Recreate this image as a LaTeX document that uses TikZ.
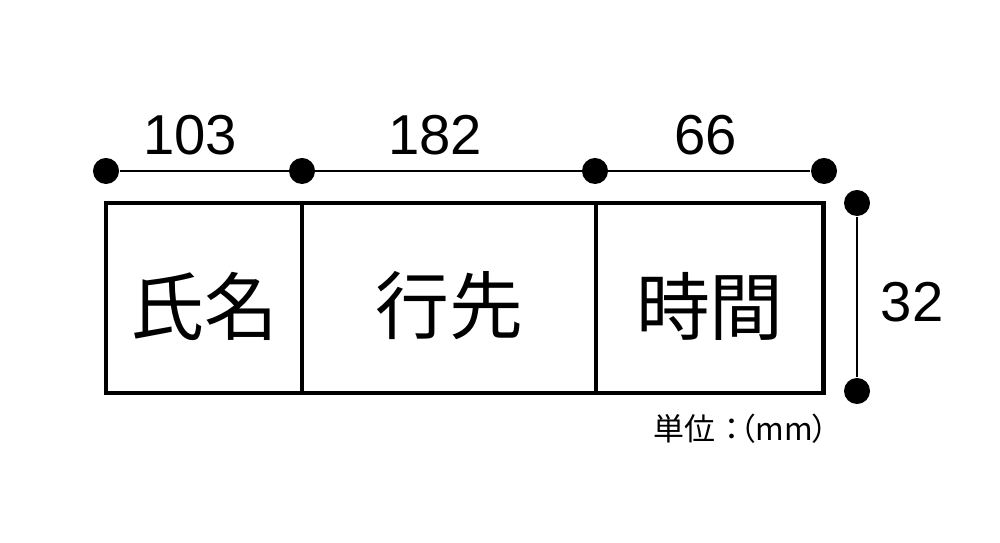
\documentclass[tikz,border=0pt]{standalone}
\usepackage{fontspec}
\setmainfont{Liberation Sans}
\newfontfamily\jpfont{Noto Sans CJK JP}
\newfontfamily\jpunitfont[RawFeature=+palt]{Noto Sans CJK JP}
\usetikzlibrary{positioning}

\begin{document}
\begin{tikzpicture}[x=0.01cm, y=-0.01cm,
    cell/.style={draw, line width=1.2pt, minimum height=1.9cm, inner sep=0pt, outer sep=0pt, anchor=north west},
    dot/.style={circle, fill, inner sep=0pt, minimum size=0.26cm},
    dimline/.style={line width=0.7pt},
    dimlabel/.style={font=\fontsize{16}{16}\selectfont, anchor=base},
    celltext/.style={font=\jpfont\fontsize{21}{21}\selectfont}]
    \useasboundingbox (0,0) rectangle (1000,543);

    % the three cells
    \node[cell, minimum width=1.96cm] (shimei) at (106,203) {};
    \node[cell, minimum width=2.94cm] (yukisaki) at (shimei.north east) {};
    \node[cell, minimum width=2.27cm] (jikan) at (yukisaki.north east) {};
    \node[celltext] (shimeitext) at ([yshift=-0.08cm]shimei.center) {氏名};
    \node[celltext] (yukisakitext) at ([yshift=-0.08cm]yukisaki.center) {行先};
    \node[celltext] (jikantext) at ([yshift=-0.08cm]jikan.center) {時間};

    % widths
    \foreach \n/\x in {a/106, b/302, c/595, d/824}
    \node[dot] (dim\n) at (\x,171) {};
    \draw[dimline] (dima) -- (dimd);
    \node[dimlabel] (wa) at (190,155) {103};
    \node[dimlabel] (wb) at (435,155) {182};
    \node[dimlabel] (wc) at (706,155) {66};

    % height
    \node[dot] (hta) at (857,203) {};
    \node[dot] (htb) at (857,391) {};
    \draw[dimline] (hta) -- (htb);
    \node[dimlabel] (ht) at (912,322) {32};

    \node[font=\jpunitfont\fontsize{8.8}{8.8}\selectfont] (unit) at (741,429) {単位\kern0.3em：（mm）};
\end{tikzpicture}
\end{document}
